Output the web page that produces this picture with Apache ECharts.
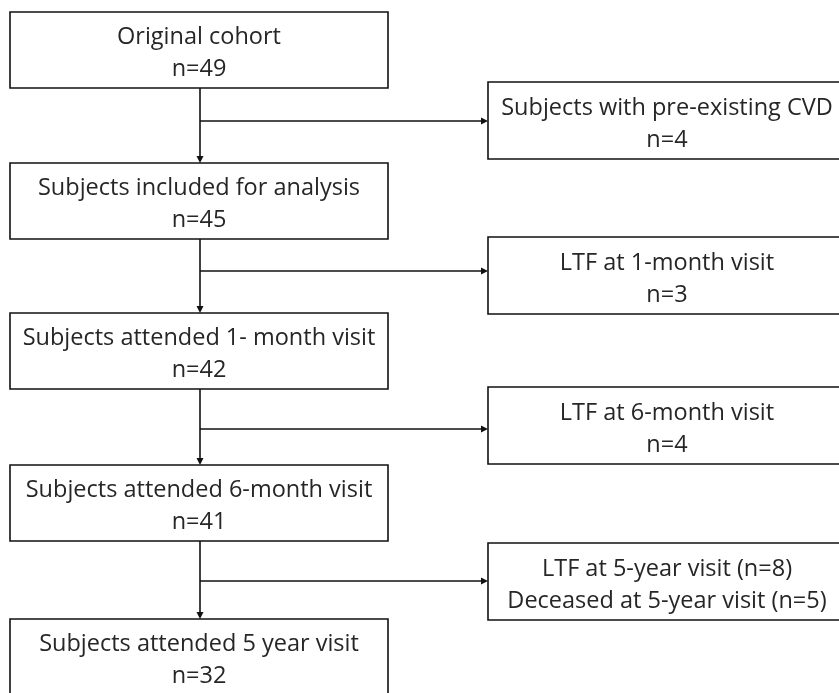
<!DOCTYPE html>
<html>
<head>
<meta charset="utf-8">
<script src="https://cdn.jsdelivr.net/npm/echarts@6/dist/echarts.min.js"></script>
<style>
html,body{margin:0;padding:0;background:#fff;}
#chart{width:839px;height:693px;}
</style>
</head>
<body>
<div id="chart"></div>
<script>
// ---- data ----
const mainLabels = ['Original cohort', 'Subjects included for analysis', 'Subjects attended 1- month visit', 'Subjects attended 6-month visit', 'Subjects attended 5 year visit'];
const mainCounts = [49, 45, 42, 41, 32];
const excludedReasons = [['Subjects with pre-existing CVD'], ['LTF at 1-month visit'], ['LTF at 6-month visit'], ['LTF at 5-year visit', 'Deceased at 5-year visit']];
const excludedCounts = [[4], [3], [4], [8, 5]];

// ---- layout (separate from data) ----
const layout = {
  mainTop: [12, 163, 313, 465, 619],
  mainH: 76,
  mainX0: 10,
  mainX1: 388,
  exclTop: [82, 237, 387, 543],
  exclH: 77,
  exclX0: 488,
  exclX1: 846,
  branchY: [121, 271, 429, 581],
  trunkX: 200
};
const FONT = '"Open Sans", Lato, sans-serif';
const FS = 23.5;
const LH = 32;
const TEXT_COLOR = '#262626';
const LINE_COLOR = '#111';

function mainText(i) { return mainLabels[i] + '\nn=' + mainCounts[i]; }
function exclText(i) {
  const r = excludedReasons[i], c = excludedCounts[i];
  if (r.length === 1) return r[0] + '\nn=' + c[0];
  return r.map((s, k) => s + ' (n=' + c[k] + ')').join('\n');
}

function boxGroup(api, x0, y0, x1, y1, text) {
  const p0 = api.coord([x0, y0]);
  const p1 = api.coord([x1, y1]);
  return {
    type: 'group',
    children: [
      { type: 'rect', shape: { x: p0[0], y: p0[1], width: p1[0] - p0[0], height: p1[1] - p0[1] },
        style: { fill: '#fff', stroke: LINE_COLOR, lineWidth: 1.6 } },
      { type: 'text', style: { text: text, x: (p0[0] + p1[0]) / 2, y: (p0[1] + p1[1]) / 2 + 3.5,
        align: 'center', verticalAlign: 'middle', fontFamily: FONT, fontSize: FS, lineHeight: LH, fill: TEXT_COLOR } }
    ]
  };
}

const chart = echarts.init(document.getElementById('chart'), null, { renderer: 'canvas' });
chart.setOption({
  animation: false,
  backgroundColor: '#fff',
  grid: { left: 0, right: 0, top: 0, bottom: 0 },
  xAxis: { type: 'value', min: 0, max: 839, show: false },
  yAxis: { type: 'value', min: 0, max: 693, inverse: true, show: false },
  series: [
    {
      // connectors
      type: 'custom',
      clip: false,
      silent: true,
      data: mainLabels.slice(1).map((_, i) => [i, i]),
      renderItem: function (params, api) {
        const i = params.dataIndex;
        const L = layout;
        const top = api.coord([L.trunkX, L.mainTop[i] + L.mainH]);
        const bottom = api.coord([L.trunkX, L.mainTop[i + 1]]);
        const br = api.coord([L.trunkX, L.branchY[i]]);
        const brEnd = api.coord([L.exclX0, L.branchY[i]]);
        const ah = 7, aw = 3.5;
        return {
          type: 'group',
          children: [
            { type: 'line', shape: { x1: top[0], y1: top[1], x2: bottom[0], y2: bottom[1] - ah + 1 },
              style: { stroke: LINE_COLOR, lineWidth: 1.6 } },
            { type: 'polygon', shape: { points: [[bottom[0], bottom[1]], [bottom[0] - aw, bottom[1] - ah], [bottom[0] + aw, bottom[1] - ah]] },
              style: { fill: LINE_COLOR } },
            { type: 'line', shape: { x1: br[0], y1: br[1], x2: brEnd[0] - ah + 1, y2: brEnd[1] },
              style: { stroke: LINE_COLOR, lineWidth: 1.3 } },
            { type: 'polygon', shape: { points: [[brEnd[0], brEnd[1]], [brEnd[0] - ah, brEnd[1] - aw], [brEnd[0] - ah, brEnd[1] + aw]] },
              style: { fill: LINE_COLOR } }
          ]
        };
      }
    },
    {
      // main boxes
      type: 'custom',
      clip: false,
      silent: true,
      data: mainLabels.map((_, i) => [i, i]),
      renderItem: function (params, api) {
        const i = params.dataIndex, L = layout;
        return boxGroup(api, L.mainX0, L.mainTop[i], L.mainX1, L.mainTop[i] + L.mainH, mainText(i));
      }
    },
    {
      // excluded boxes
      type: 'custom',
      clip: false,
      silent: true,
      data: excludedReasons.map((_, i) => [i, i]),
      renderItem: function (params, api) {
        const i = params.dataIndex, L = layout;
        return boxGroup(api, L.exclX0, L.exclTop[i], L.exclX1, L.exclTop[i] + L.exclH, exclText(i));
      }
    }
  ]
});
</script>
</body>
</html>
